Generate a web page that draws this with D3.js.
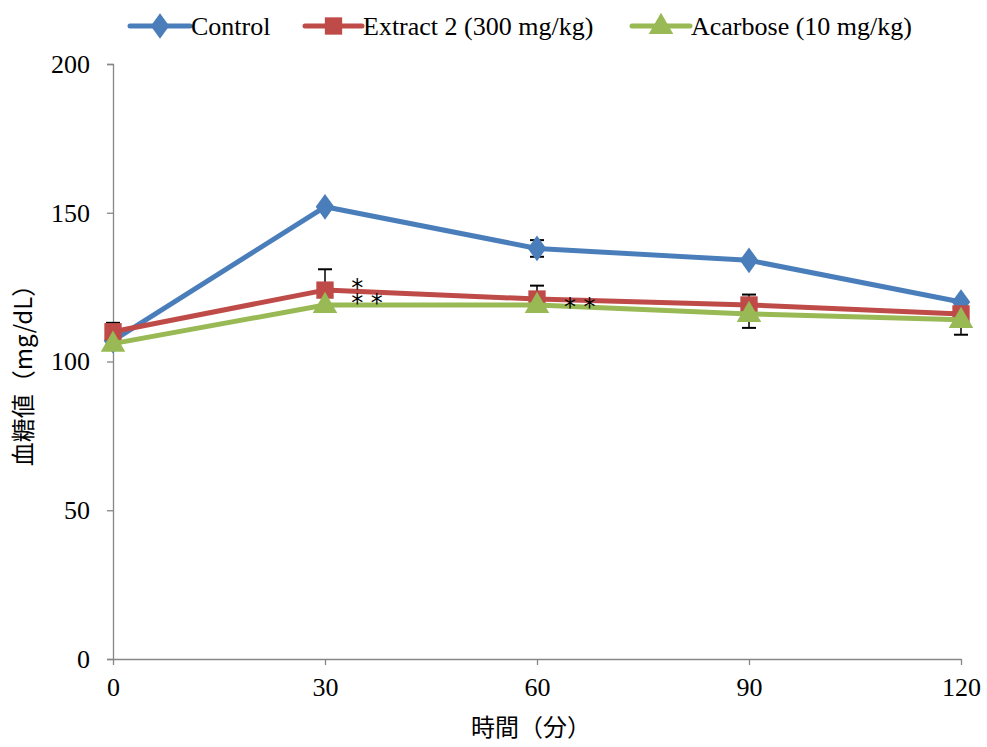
<!DOCTYPE html>
<html>
<head>
<meta charset="utf-8">
<script src="https://cdn.jsdelivr.net/npm/d3@7"></script>
<style>
  html, body { margin: 0; padding: 0; background: #fff; }
  svg { display: block; }
</style>
</head>
<body>
<svg id="chart" width="987" height="747"></svg>
<script>
// Time points (minutes)
const times = [0, 30, 60, 90, 120];
const yTicks = [0, 50, 100, 150, 200];

// Blood glucose means (mg/dL)
const control   = [107, 152, 138, 134, 120];
const extract2  = [110, 124, 121, 119, 116];
const acarbose  = [106, 119, 119, 116, 114];

// Visible error bar extents (upper / lower)
const controlErrUp    = [0, 0, 2.8, 0, 0];
const controlErrDown  = [0, 0, 2.8, 0, 0];
const extract2ErrUp   = [3, 7, 4.5, 3.5, 0];
const extract2ErrDown = [0, 0, 0, 0, 0];
const acarboseErrUp   = [0, 0, 0, 0, 0];
const acarboseErrDown = [0, 0, 0, 4.7, 5];

// Significance asterisk groups: each group anchored at (minutes, mg/dL),
// with one row of asterisks per line
const markT = [34.7, 64.8];
const markV = [126.4, 120.0];
const markRows = [["*", "* *"], ["* *"]];

const seriesNames = ["Control", "Extract 2 (300 mg/kg)", "Acarbose (10 mg/kg)"];
const seriesColors = ["#4A7EBB", "#BE4B48", "#98B954"];
const seriesShapes = [d3.symbolDiamond, d3.symbolSquare, d3.symbolTriangle];

const series = [
  { name: seriesNames[0], values: control,  up: controlErrUp,  down: controlErrDown,  color: seriesColors[0], shape: seriesShapes[0] },
  { name: seriesNames[1], values: extract2, up: extract2ErrUp, down: extract2ErrDown, color: seriesColors[1], shape: seriesShapes[1] },
  { name: seriesNames[2], values: acarbose, up: acarboseErrUp, down: acarboseErrDown, color: seriesColors[2], shape: seriesShapes[2] }
];

const svg = d3.select("#chart");
const serif = "'Liberation Serif', 'Times New Roman', serif";
const cjk = "'Noto Sans CJK JP', 'Noto Sans CJK SC', sans-serif";

const x = d3.scaleLinear().domain([0, 120]).range([113, 961]);
const y = d3.scaleLinear().domain([0, 200]).range([659, 64]);

const axisColor = "#868686";

// Y axis
const yAxis = svg.append("g")
  .attr("transform", `translate(${x(0)},0)`)
  .call(d3.axisLeft(y).tickValues(yTicks).tickSize(6).tickPadding(17));
yAxis.select(".domain").attr("stroke", axisColor).attr("stroke-width", 1.3);
yAxis.selectAll(".tick line").attr("stroke", axisColor).attr("stroke-width", 1.3);
yAxis.selectAll(".tick text")
  .attr("font-family", serif).attr("font-size", 26).attr("fill", "#000");

// X axis
const xAxis = svg.append("g")
  .attr("transform", `translate(0,${y(0)})`)
  .call(d3.axisBottom(x).tickValues(times).tickSizeInner(6).tickSizeOuter(0).tickPadding(13));
xAxis.select(".domain").attr("stroke", axisColor).attr("stroke-width", 1.3);
xAxis.selectAll(".tick line").attr("stroke", axisColor).attr("stroke-width", 1.3);
xAxis.selectAll(".tick text")
  .attr("font-family", serif).attr("font-size", 26).attr("fill", "#000");

// Axis titles
svg.append("text")
  .attr("transform", `translate(32,${(y(0) + y(200)) / 2 + 8}) rotate(-90)`)
  .attr("text-anchor", "middle")
  .attr("font-family", cjk).attr("font-size", 24).attr("fill", "#000")
  .text("血糖値（mg/dL）");

svg.append("text")
  .attr("x", 531).attr("y", 736)
  .attr("text-anchor", "middle")
  .attr("font-family", cjk).attr("font-size", 24).attr("fill", "#000")
  .text("時間（分）");

const line = d3.line().x((d, i) => x(times[i])).y(d => y(d));

function sym(shape) {
  if (shape === d3.symbolDiamond) return d3.symbol().type(shape).size(190)();
  if (shape === d3.symbolSquare) return d3.symbol().type(shape).size(300)();
  return d3.symbol().type(shape).size(260)();
}
function symTransform(shape, cx, cy) {
  const dy = shape === d3.symbolTriangle ? 1 : 0;
  return `translate(${cx},${cy + dy})` + (shape === d3.symbolDiamond ? " scale(1.25,1)" : "");
}

// Error bars and series, drawn in series order
series.forEach(s => {
  const eb = svg.append("g").attr("stroke", "#000").attr("stroke-width", 1.5);
  s.values.forEach((v, i) => {
    const cx = x(times[i]);
    if (s.up[i] > 0) {
      eb.append("line").attr("x1", cx).attr("x2", cx).attr("y1", y(v)).attr("y2", y(v + s.up[i]));
      eb.append("line").attr("x1", cx - 7).attr("x2", cx + 7).attr("y1", y(v + s.up[i])).attr("y2", y(v + s.up[i])).attr("stroke-width", 2);
    }
    if (s.down[i] > 0) {
      eb.append("line").attr("x1", cx).attr("x2", cx).attr("y1", y(v)).attr("y2", y(v - s.down[i]));
      eb.append("line").attr("x1", cx - 7).attr("x2", cx + 7).attr("y1", y(v - s.down[i])).attr("y2", y(v - s.down[i])).attr("stroke-width", 2);
    }
  });
  svg.append("path")
    .attr("d", line(s.values))
    .attr("fill", "none")
    .attr("stroke", s.color)
    .attr("stroke-width", 5)
    .attr("stroke-linejoin", "round");
  svg.append("g").selectAll("path")
    .data(s.values)
    .join("path")
    .attr("transform", (d, i) => symTransform(s.shape, x(times[i]), y(d)))
    .attr("d", sym(s.shape))
    .attr("fill", s.color);
});

// Significance asterisks (one text per group, rows as tspans)
svg.append("g").selectAll("text")
  .data(markT)
  .join("text")
  .attr("x", t => x(t))
  .attr("y", (t, i) => y(markV[i]) + 13)
  .attr("font-family", "'DejaVu Sans', sans-serif")
  .attr("font-size", 24)
  .attr("fill", "#000")
  .attr("xml:space", "preserve")
  .each(function (t, i) {
    const el = d3.select(this);
    markRows[i].forEach((row, r) => {
      el.append("tspan")
        .attr("x", x(t) - 7)
        .attr("dy", r === 0 ? 0 : 15)
        .text(row);
    });
  });

// Legend
const legendItems = [
  { x0: 130, x1: 190, tx: 191 },
  { x0: 305, x1: 362, tx: 363 },
  { x0: 632, x1: 690, tx: 691 }
];
const legend = svg.append("g");
series.forEach((s, i) => {
  const li = legendItems[i];
  const g = legend.append("g");
  g.append("line")
    .attr("x1", li.x0).attr("x2", li.x1).attr("y1", 26).attr("y2", 26)
    .attr("stroke", s.color).attr("stroke-width", 5).attr("stroke-linecap", "round");
  g.append("path")
    .attr("transform", symTransform(s.shape, (li.x0 + li.x1) / 2, 26))
    .attr("d", sym(s.shape))
    .attr("fill", s.color);
  g.append("text")
    .attr("x", li.tx).attr("y", 35)
    .attr("font-family", serif).attr("font-size", 26).attr("fill", "#000")
    .text(s.name);
});
</script>
</body>
</html>
